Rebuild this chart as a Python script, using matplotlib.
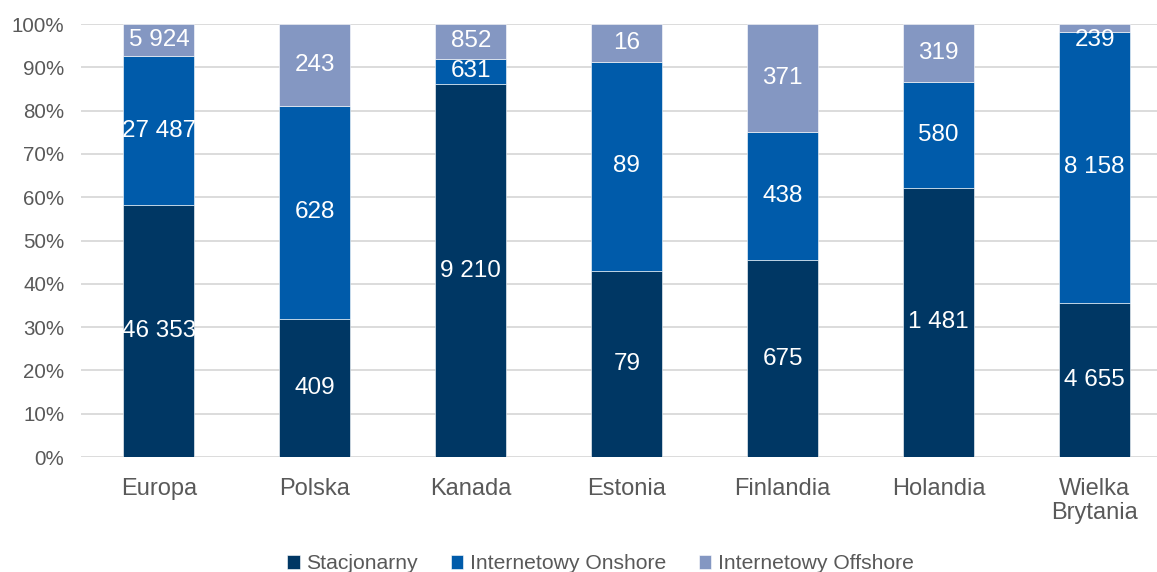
import numpy as np
import matplotlib.pyplot as plt
from matplotlib.ticker import PercentFormatter

plt.rcParams['font.family'] = ['Liberation Sans', 'DejaVu Sans']

countries = ["Europa", "Polska", "Kanada", "Estonia", "Finlandia", "Holandia", "Wielka\nBrytania"]
series_names = ["Stacjonarny", "Internetowy Onshore", "Internetowy Offshore"]
stacjonarny = [46353, 409, 9210, 79, 675, 1481, 4655]
onshore = [27487, 628, 631, 89, 438, 580, 8158]
offshore = [5924, 243, 852, 16, 371, 319, 239]

colors = ["#003764", "#005BAA", "#8497C2"]


def fmt(v):
    return f"{v:,}".replace(",", " ")


values = np.array([stacjonarny, onshore, offshore], dtype=float)
shares = values / values.sum(axis=0) * 100

fig = plt.figure(figsize=(11.57, 5.72), dpi=100)
ax = fig.add_axes([0.070, 0.201, 0.930, 0.757])

x = np.arange(len(countries))
bottom = np.zeros(len(countries))
for i, name in enumerate(series_names):
    ax.bar(x, shares[i], 0.455, bottom=bottom, color=colors[i], label=name,
           edgecolor="white", linewidth=0.4, zorder=2)
    for j in range(len(countries)):
        yc = min(bottom[j] + shares[i][j] / 2, 96.4)
        ax.text(x[j], yc, fmt(int(values[i][j])), ha="center", va="center",
                color="white", fontsize=17.5, zorder=3)
    bottom += shares[i]

ax.set_ylim(0, 100)
ax.set_xlim(-0.5, 6.4)
ax.set_yticks(np.arange(0, 101, 10))
ax.yaxis.set_major_formatter(PercentFormatter(decimals=0))
ax.set_xticks(x)
ax.set_xticklabels(countries, fontsize=17, color="#595959", linespacing=1.15)
ax.tick_params(axis="y", labelsize=14.8, colors="#595959", length=0, pad=12)
ax.tick_params(axis="x", length=0, pad=15)
ax.grid(axis="y", color="#D9D9D9", linewidth=1.3, zorder=0)
for s in ax.spines.values():
    s.set_visible(False)

leg = fig.legend(loc="center", bbox_to_anchor=(0.519, 0.014), ncol=3, frameon=False,
                 fontsize=15.2, handlelength=0.6, handleheight=0.6, handletextpad=0.3,
                 columnspacing=1.55, labelcolor="#595959")

fig.savefig("out.png", dpi=100)
